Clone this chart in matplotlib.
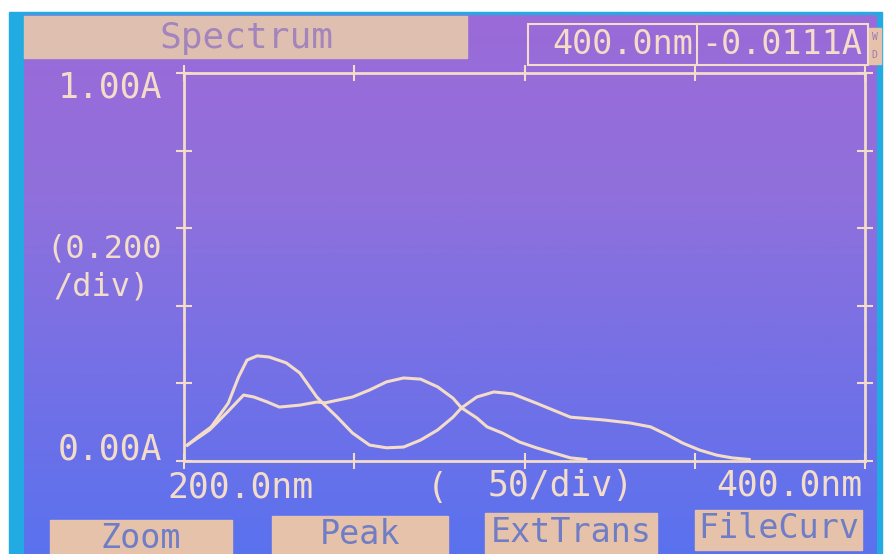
import numpy as np
import matplotlib
matplotlib.use("Agg")
import matplotlib.pyplot as plt
from matplotlib.colors import LinearSegmentedColormap
from matplotlib.patches import Rectangle

# 读数数据 (波长 nm, 吸光度 A)
wl_a = [201, 204, 208, 213, 216, 218.5, 221.5, 225, 230, 234, 239, 241,
        245, 249.5, 254.5, 259.5, 264.5, 269.5, 274.5, 279, 281.5, 286,
        291, 296.5, 303.5, 313.5, 323, 331, 337, 342, 346.5, 351.5,
        356.5, 361, 366]
abs_a = [0.041, 0.062, 0.088, 0.149, 0.216, 0.260, 0.271, 0.268, 0.253,
         0.227, 0.165, 0.147, 0.113, 0.072, 0.041, 0.034, 0.036, 0.054,
         0.080, 0.113, 0.137, 0.165, 0.178, 0.173, 0.149, 0.113, 0.106,
         0.098, 0.088, 0.067, 0.046, 0.028, 0.015, 0.008, 0.004]

wl_b = [201, 207.5, 212.5, 217.5, 220.5, 224.5, 228, 234, 239, 241.5,
        249.5, 254.5, 259.5, 264.5, 269.5, 274.5, 279, 281.5, 286, 289,
        293.5, 298.5, 303.5, 308.5, 313.5, 318]
abs_b = [0.041, 0.080, 0.124, 0.170, 0.165, 0.152, 0.139, 0.144, 0.152,
         0.150, 0.165, 0.183, 0.204, 0.214, 0.211, 0.191, 0.162, 0.137,
         0.111, 0.088, 0.072, 0.049, 0.034, 0.021, 0.008, 0.004]

x_ticks = [200, 250, 300, 350, 400]
y_ticks = [0.0, 0.2, 0.4, 0.6, 0.8, 1.0]

W, H = 888, 554
LCD = '#f3dcc8'
PEACH = '#e6c2ab'
MONO = 'DejaVu Sans Mono'

fig = plt.figure(figsize=(W / 100, H / 100), dpi=100)
fig.patch.set_facecolor('white')

# 背景层 (像素坐标)
bg = fig.add_axes([0, 0, 1, 1])
bg.set_xlim(0, W)
bg.set_ylim(H, 0)
bg.axis('off')

bg.add_patch(Rectangle((9, 12), 873, 542, color='#22aae2', zorder=0))
cmap = LinearSegmentedColormap.from_list(
    'lcd', ['#9a6ad8', '#9070dc', '#7470e6', '#5a72ee'])
grad = np.linspace(0, 1, 256).reshape(-1, 1)
bg.imshow(grad, cmap=cmap, aspect='auto', extent=[24, 876, 554, 15], zorder=1)

# 顶部标题框
bg.add_patch(Rectangle((24, 16), 443, 42, color='#dfc0b0', zorder=2))
bg.text(246, 38, 'Spectrum', ha='center', va='center', fontsize=26,
        family=MONO, color='#a484bc', zorder=3)
bg.add_patch(Rectangle((528, 24), 340, 41, fill=False, edgecolor=LCD,
                       lw=1.5, zorder=3))
bg.plot([697, 697], [24, 65], color=LCD, lw=1.5, zorder=3)
bg.text(623, 44, '400.0nm', ha='center', va='center', fontsize=24,
        family=MONO, color=LCD, zorder=3)
bg.text(782, 44, '-0.0111A', ha='center', va='center', fontsize=24,
        family=MONO, color=LCD, zorder=3)
bg.add_patch(Rectangle((868, 28), 13, 36, color=PEACH, zorder=2))
bg.text(874.5, 37, 'W', ha='center', va='center', fontsize=7,
        family=MONO, color='#9a7ab8', zorder=3)
bg.text(874.5, 55, 'D', ha='center', va='center', fontsize=7,
        family=MONO, color='#9a7ab8', zorder=3)

# 纵轴标签
bg.text(162, 88, '1.00A', ha='right', va='center', fontsize=25,
        family=MONO, color=LCD)
bg.text(162, 249, '(0.200', ha='right', va='center', fontsize=23,
        family=MONO, color=LCD)
bg.text(150, 287, '/div)', ha='right', va='center', fontsize=23,
        family=MONO, color=LCD)
bg.text(162, 450, '0.00A', ha='right', va='center', fontsize=25,
        family=MONO, color=LCD)

# 横轴标签
bg.text(240, 488, '200.0nm', ha='center', va='center', fontsize=25,
        family=MONO, color=LCD)
bg.text(437, 488, '(', ha='center', va='center', fontsize=25,
        family=MONO, color=LCD)
bg.text(561, 486, '50/div)', ha='center', va='center', fontsize=25,
        family=MONO, color=LCD)
bg.text(789, 486, '400.0nm', ha='center', va='center', fontsize=25,
        family=MONO, color=LCD)

# 底部按钮
buttons = [('Zoom', 50, 520, 182), ('Peak', 272, 516, 176),
           ('ExtTrans', 485, 513, 172), ('FileCurv', 695, 510, 167)]
for label, bx, by, bw in buttons:
    bg.add_patch(Rectangle((bx, by), bw, 40, color=PEACH, zorder=2))
    bg.text(bx + bw / 2, by + 19, label, ha='center', va='center',
            fontsize=24, family=MONO, color='#6f7cc6', zorder=3)

# 光谱曲线
ax = fig.add_axes([184 / W, (H - 461) / H, 681 / W, 388 / H])
ax.patch.set_alpha(0)
ax.plot(wl_a, abs_a, color=LCD, lw=2.2)
ax.plot(wl_b, abs_b, color=LCD, lw=2.2)
ax.set_xlim(200, 400)
ax.set_ylim(0, 1.0)
ax.set_xticks(x_ticks)
ax.set_yticks(y_ticks)
ax.tick_params(direction='inout', length=11, width=1.5, color=LCD,
               top=True, right=True, labelbottom=False, labelleft=False)
for s in ax.spines.values():
    s.set_color(LCD)
    s.set_linewidth(2)

fig.savefig('out.png', dpi=100)
